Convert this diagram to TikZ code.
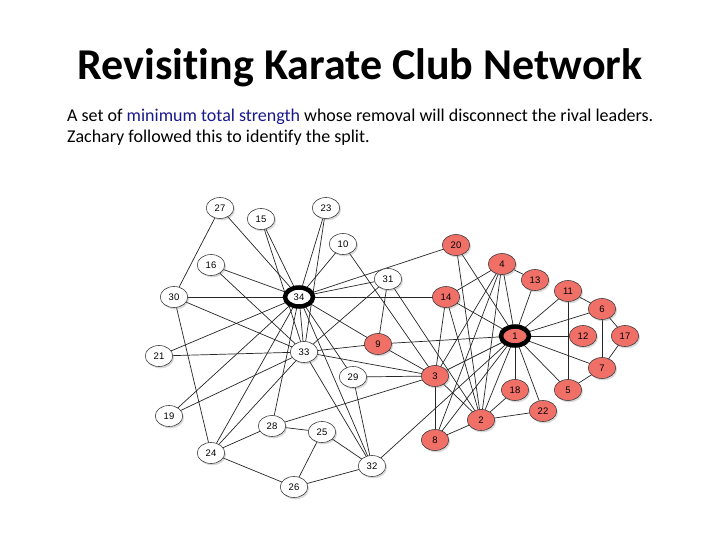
\documentclass[tikz,border=0pt]{standalone}
\usepackage{fontspec}
\setmainfont{Carlito}[Ligatures=NoCommon]
\newfontfamily\labelfont{Liberation Sans}
\usepackage{tikz}
\usetikzlibrary{shapes.geometric, shadows, backgrounds}
\definecolor{clubred}{RGB}{240,112,104}
\definecolor{strengthblue}{RGB}{25,25,140}
\tikzset{
  member/.style={ellipse, draw=black!75, line width=0.6pt, fill=white,
    minimum width=27.5pt, minimum height=21pt, inner sep=0pt,
    font=\labelfont\fontsize{9.5}{9.5}\selectfont,
    drop shadow={shadow xshift=1.3pt, shadow yshift=-1.8pt, opacity=0.3}},
  rival/.style={member, fill=clubred},
  leader/.style={line width=4.5pt, draw=black, minimum width=28pt, minimum height=19pt},
  tie/.style={line width=0.7pt, black!85}
}

\begin{document}
\begin{tikzpicture}[x=1pt, y=-1pt]
\useasboundingbox (0,0) rectangle (720,540);

% Title and caption
\node (title) at (360,68) {\fontsize{44}{48}\selectfont\bfseries Revisiting Karate Club Network};
\node[anchor=base west, inner sep=0pt] (line1) at (67,122) {\fontsize{18}{21}\selectfont A set of \textcolor{strengthblue}{minimum total strength} whose removal will disconnect the rival leaders.};
\node[anchor=base west, inner sep=0pt] (line2) at (67,143) {\fontsize{18}{21}\selectfont Zachary followed this to identify the split.};

% Members around 34
\node[member] (m27) at (220,208) {27};
\node[member] (m15) at (261,219) {15};
\node[member] (m23) at (326,208) {23};
\node[member] (m10) at (343,244) {10};
\node[member] (m16) at (211,265) {16};
\node[member] (m30) at (174,297) {30};
\node[member, leader] (m34) at (299,297) {34};
\node[member] (m31) at (388,279) {31};
\node[member] (m33) at (304,352) {33};
\node[member] (m21) at (159,356) {21};
\node[member] (m29) at (353,377) {29};
\node[member] (m19) at (169,416) {19};
\node[member] (m28) at (272,426) {28};
\node[member] (m25) at (322,432) {25};
\node[member] (m24) at (211,453) {24};
\node[member] (m32) at (372,466) {32};
\node[member] (m26) at (294,487) {26};

% Members around 1
\node[rival] (m20) at (456,245) {20};
\node[rival] (m4) at (502,264) {4};
\node[rival] (m13) at (535,280) {13};
\node[rival] (m14) at (446,297) {14};
\node[rival] (m11) at (568,291) {11};
\node[rival] (m6) at (602,309) {6};
\node[rival, leader] (m1) at (515,336) {1};
\node[rival] (m12) at (583,336) {12};
\node[rival] (m17) at (625,336) {17};
\node[rival] (m9) at (378,344) {9};
\node[rival] (m3) at (435,376) {3};
\node[rival] (m7) at (602,368) {7};
\node[rival] (m18) at (515,390) {18};
\node[rival] (m5) at (568,390) {5};
\node[rival] (m22) at (543,411) {22};
\node[rival] (m2) at (481,420) {2};
\node[rival] (m8) at (435,440) {8};

% Friendships
\begin{scope}[on background layer]
\fill[white] (0,0) rectangle (720,540);
\foreach \a/\b in {1/2,1/3,1/4,1/5,1/6,1/7,1/8,1/9,1/11,1/12,1/13,1/14,1/18,1/20,1/22,1/32,
    2/3,2/4,2/8,2/14,2/18,2/20,2/22,2/31,3/4,3/8,3/9,3/10,3/14,3/28,3/29,3/33,
    4/8,4/13,4/14,5/7,5/11,6/7,6/11,6/17,7/17,9/31,9/33,9/34,10/34,14/34,
    15/33,15/34,16/33,16/34,19/33,19/34,20/34,21/33,21/34,23/33,23/34,
    24/26,24/28,24/30,24/33,24/34,25/26,25/28,25/32,26/32,27/30,27/34,28/34,
    29/32,29/34,30/33,30/34,31/33,31/34,32/33,32/34,33/34}
  \draw[tie] (m\a.center) -- (m\b.center);
\end{scope}
\end{tikzpicture}
\end{document}
